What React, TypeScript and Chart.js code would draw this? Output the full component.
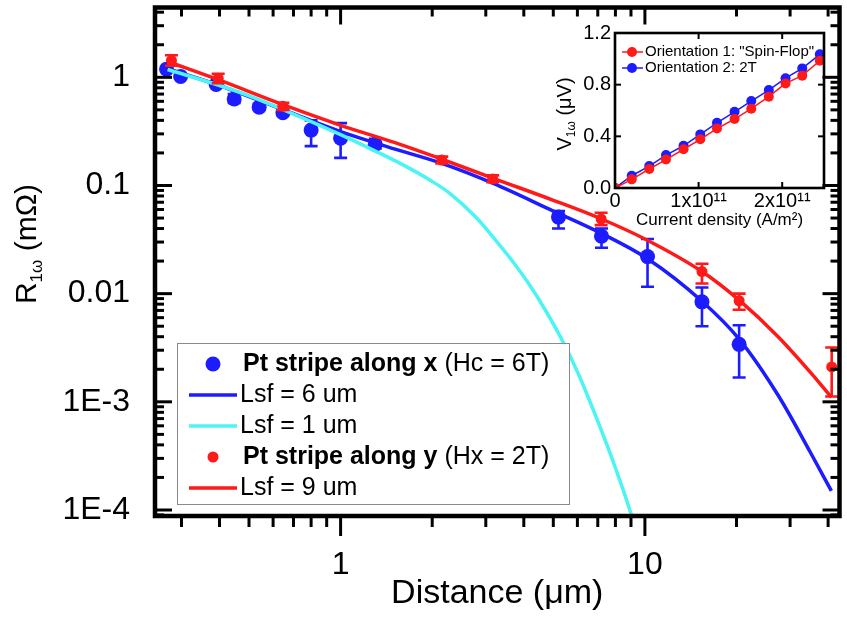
import React, { useEffect, useRef } from 'react';
import { Chart, registerables } from 'chart.js';

Chart.register(...registerables);

const FONT = '"Liberation Sans", Arial, Helvetica, sans-serif';
const BLUE = '#1c1cff';
const RED = '#ff1a1a';
const CYAN = '#4cf4f4';

// ---------- Main plot: measured points ----------
const alongXDist = [0.268, 0.298, 0.39, 0.447, 0.54, 0.646, 0.8, 1.0, 1.3, 5.2, 7.2, 10.2, 15.4, 20.4];
const alongXR = [1.19, 1.02, 0.86, 0.63, 0.53, 0.47, 0.325, 0.274, 0.24, 0.051, 0.034, 0.022, 0.0084, 0.0034];
const alongXErrLow = [null, null, null, 0.58, 0.5, null, 0.231, 0.18, 0.22, 0.04, 0.0266, 0.0116, 0.005, 0.00168];
const alongXErrHigh = [null, null, null, 0.7, 0.57, null, 0.4, 0.377, 0.27, 0.058, 0.04, 0.032, 0.0114, 0.0051];

const alongYDist = [0.278, 0.396, 0.646, 2.15, 3.16, 7.18, 15.4, 20.4, 41.1];
const alongYR = [1.43, 0.98, 0.54, 0.172, 0.115, 0.049, 0.016, 0.0086, 0.0021];
const alongYErrLow = [1.28, 0.88, 0.5, 0.16, 0.107, 0.043, 0.0124, 0.0071, 0.00112];
const alongYErrHigh = [1.6, 1.08, 0.58, 0.185, 0.124, 0.056, 0.0189, 0.01, 0.00318];

// ---------- Main plot: fit curves ----------
const fit6X = [0.27, 0.4, 0.65, 1, 1.5, 2.15, 3.16, 5, 7.2, 10.2, 15.4, 20.4, 27.4, 35, 41];
const fit6Y = [1.2, 0.84, 0.5, 0.315, 0.218, 0.16, 0.105, 0.058, 0.036, 0.021, 0.0085, 0.0038, 0.00115, 0.00034, 0.00015];

const fit1X = [0.27, 0.4, 0.5, 0.65, 0.8, 1, 1.3, 1.57, 2.0, 2.29, 2.8, 3.3, 3.7, 4.18, 4.7, 5.35, 6.0, 6.92, 8.0, 9.06, 9.4];
const fit1Y = [1.18, 0.84, 0.675, 0.5, 0.39, 0.295, 0.208, 0.16, 0.109, 0.0842, 0.05, 0.029, 0.0194, 0.012, 0.0071, 0.0037, 0.0019, 0.00072, 0.000245, 0.000087, 0.00006];

const fit9X = [0.27, 0.4, 0.65, 1, 1.5, 2.15, 3.16, 5, 7.2, 10, 15.4, 20.4, 27.4, 35, 41];
const fit9Y = [1.4, 0.94, 0.555, 0.36, 0.25, 0.175, 0.117, 0.073, 0.049, 0.032, 0.016, 0.0087, 0.004, 0.00187, 0.0011];

// ---------- Main axes ----------
const xMin = 0.2455;
const xMax = 43.6;
const yMin = 8.8e-5;
const yMax = 4.42;
const xTickValues = [1, 10];
const xTickLabels = ['1', '10'];
const yTickValues = [1e-4, 1e-3, 0.01, 0.1, 1];
const yTickLabels = ['1E-4', '1E-3', '0.01', '0.1', '1'];
const xMinorTicks = [0.3, 0.4, 0.5, 0.6, 0.7, 0.8, 0.9, 2, 3, 4, 5, 6, 7, 8, 9, 20, 30, 40];
const yMinorTicks: number[] = [];
for (let k = -5; k <= 0; k++) {
  for (let m = 2; m <= 9; m++) {
    const v = m * Math.pow(10, k);
    if (v > yMin && v < yMax) yMinorTicks.push(v);
  }
}

// ---------- Inset data ----------
const currentDensity = [0, 0.2e11, 0.41e11, 0.61e11, 0.82e11, 1.02e11, 1.22e11, 1.43e11, 1.63e11, 1.84e11, 2.04e11, 2.24e11, 2.45e11];
const orient1V = [0.0, 0.067, 0.147, 0.22, 0.3, 0.377, 0.46, 0.534, 0.614, 0.707, 0.81, 0.87, 0.985];
const orient2V = [0.0, 0.095, 0.17, 0.255, 0.327, 0.415, 0.505, 0.59, 0.673, 0.758, 0.85, 0.926, 1.035];
const insetXTickValues = [0, 1e11, 2e11];
const insetXTickLabels = ['0', '1x10¹¹', '2x10¹¹'];
const insetYTickValues = [0, 0.4, 0.8, 1.2];
const insetYTickLabels = ['0.0', '0.4', '0.8', '1.2'];

const pts = (xs: number[], ys: number[]) => xs.map((x, i) => ({ x, y: ys[i] }));

const noPad = (s: any) => {
  s.paddingTop = 0;
  s.paddingBottom = 0;
  s.paddingLeft = 0;
  s.paddingRight = 0;
};

const errorBarPlugin = {
  id: 'errorBars',
  afterDatasetDraw(chart: any, args: any) {
    const ds = chart.data.datasets[args.index];
    if (!ds.errLow) return;
    const { ctx, chartArea: a } = chart;
    const xs = chart.scales.x;
    const ys = chart.scales.y;
    ctx.save();
    ctx.beginPath();
    ctx.rect(a.left, a.top, a.right - a.left, a.bottom - a.top);
    ctx.clip();
    ctx.strokeStyle = ds.backgroundColor;
    ctx.lineWidth = 2.6;
    const cap = 6.5;
    ds.data.forEach((p: any, i: number) => {
      const lo = ds.errLow[i];
      const hi = ds.errHigh[i];
      if (lo == null || hi == null) return;
      const px = xs.getPixelForValue(p.x);
      const pl = ys.getPixelForValue(lo);
      const ph = ys.getPixelForValue(hi);
      ctx.beginPath();
      ctx.moveTo(px, pl);
      ctx.lineTo(px, ph);
      ctx.moveTo(px - cap, pl);
      ctx.lineTo(px + cap, pl);
      ctx.moveTo(px - cap, ph);
      ctx.lineTo(px + cap, ph);
      ctx.stroke();
    });
    ctx.restore();
  },
};

const mainDecorPlugin = {
  id: 'mainDecor',
  afterDraw(chart: any) {
    const { ctx, chartArea: a } = chart;
    const xs = chart.scales.x;
    const ys = chart.scales.y;
    ctx.save();
    ctx.strokeStyle = '#000';
    ctx.lineCap = 'butt';
    const line = (x1: number, y1: number, x2: number, y2: number) => {
      ctx.beginPath();
      ctx.moveTo(x1, y1);
      ctx.lineTo(x2, y2);
      ctx.stroke();
    };
    ctx.lineWidth = 3;
    xTickValues.forEach((v) => {
      const p = xs.getPixelForValue(v);
      line(p, a.top, p, a.top + 17);
      line(p, a.bottom, p, a.bottom + 20);
    });
    xMinorTicks.forEach((v) => {
      const p = xs.getPixelForValue(v);
      line(p, a.top, p, a.top + 9);
      line(p, a.bottom, p, a.bottom + 11);
    });
    yTickValues.forEach((v) => {
      const p = ys.getPixelForValue(v);
      line(a.left, p, a.left + 17, p);
      line(a.right, p, a.right - 17, p);
    });
    yMinorTicks.forEach((v) => {
      const p = ys.getPixelForValue(v);
      line(a.left, p, a.left + 9, p);
      line(a.right, p, a.right - 9, p);
    });
    ctx.lineWidth = 4.5;
    ctx.strokeRect(a.left, a.top, a.right - a.left, a.bottom - a.top);

    // Y title with subscript
    ctx.save();
    ctx.translate(36, 244);
    ctx.rotate(-Math.PI / 2);
    ctx.fillStyle = '#000';
    ctx.textBaseline = 'alphabetic';
    const big = `30px ${FONT}`;
    const small = `17px ${FONT}`;
    ctx.font = big;
    const wR = ctx.measureText('R').width;
    const wRest = ctx.measureText(' (mΩ)').width;
    ctx.font = small;
    const wSub = ctx.measureText('1ω').width;
    let xx = -(wR + wSub + wRest) / 2;
    ctx.font = big;
    ctx.fillText('R', xx, 0);
    xx += wR;
    ctx.font = small;
    ctx.fillText('1ω', xx, 6);
    xx += wSub;
    ctx.font = big;
    ctx.fillText(' (mΩ)', xx, 0);
    ctx.restore();

    // Legend
    const L = 177, T = 343, W = 392, H = 161;
    ctx.fillStyle = '#fff';
    ctx.fillRect(L, T, W, H);
    ctx.strokeStyle = '#8a8a8a';
    ctx.lineWidth = 1;
    ctx.strokeRect(L + 0.5, T + 0.5, W, H);
    const rows = [364, 395, 426, 457, 488];
    ctx.textBaseline = 'middle';
    ctx.textAlign = 'left';
    const fs = 25;
    const drawMixed = (bold: string, normal: string, x: number, y: number) => {
      ctx.fillStyle = '#000';
      ctx.font = `bold ${fs}px ${FONT}`;
      ctx.fillText(bold, x, y);
      const w = ctx.measureText(bold).width;
      ctx.font = `${fs}px ${FONT}`;
      ctx.fillText(normal, x + w, y);
    };
    const drawLine = (color: string, y: number, label: string) => {
      ctx.strokeStyle = color;
      ctx.lineWidth = 3.5;
      line(189, y, 237, y);
      ctx.fillStyle = '#000';
      ctx.font = `${fs}px ${FONT}`;
      ctx.fillText(label, 240, y);
    };
    ctx.fillStyle = BLUE;
    ctx.beginPath();
    ctx.arc(213, rows[0], 7.5, 0, Math.PI * 2);
    ctx.fill();
    drawMixed('Pt stripe along x', ' (Hc = 6T)', 243, rows[0]);
    drawLine(BLUE, rows[1], 'Lsf = 6 um');
    drawLine(CYAN, rows[2], 'Lsf = 1 um');
    ctx.fillStyle = RED;
    ctx.beginPath();
    ctx.arc(213, rows[3], 5.5, 0, Math.PI * 2);
    ctx.fill();
    drawMixed('Pt stripe along y', ' (Hx = 2T)', 243, rows[3]);
    drawLine(RED, rows[4], 'Lsf = 9 um');
    ctx.restore();
  },
};

const insetDecorPlugin = {
  id: 'insetDecor',
  afterDraw(chart: any) {
    const { ctx, chartArea: a } = chart;
    const xs = chart.scales.x;
    const ys = chart.scales.y;
    ctx.save();
    ctx.strokeStyle = '#000';
    const line = (x1: number, y1: number, x2: number, y2: number) => {
      ctx.beginPath();
      ctx.moveTo(x1, y1);
      ctx.lineTo(x2, y2);
      ctx.stroke();
    };
    ctx.lineWidth = 2;
    insetXTickValues.forEach((v) => {
      const p = xs.getPixelForValue(v);
      line(p, a.bottom, p, a.bottom - 6);
      line(p, a.top, p, a.top + 6);
    });
    insetYTickValues.forEach((v) => {
      const p = ys.getPixelForValue(v);
      line(a.left, p, a.left + 6, p);
      line(a.right, p, a.right - 6, p);
    });
    ctx.lineWidth = 2.6;
    ctx.strokeRect(a.left, a.top, a.right - a.left, a.bottom - a.top);

    // Y title
    ctx.save();
    ctx.translate(31, 94);
    ctx.rotate(-Math.PI / 2);
    ctx.fillStyle = '#000';
    ctx.textBaseline = 'alphabetic';
    const big = `20px ${FONT}`;
    const small = `12px ${FONT}`;
    ctx.font = big;
    const wV = ctx.measureText('V').width;
    const wRest = ctx.measureText(' (μV)').width;
    ctx.font = small;
    const wSub = ctx.measureText('1ω').width;
    let xx = -(wV + wSub + wRest) / 2;
    ctx.font = big;
    ctx.fillText('V', xx, 0);
    xx += wV;
    ctx.font = small;
    ctx.fillText('1ω', xx, 4);
    xx += wSub;
    ctx.font = big;
    ctx.fillText(' (μV)', xx, 0);
    ctx.restore();

    // Legend
    const items = [
      { color: RED, label: 'Orientation 1: "Spin-Flop"', y: 32 },
      { color: BLUE, label: 'Orientation 2: 2T', y: 48 },
    ];
    ctx.textBaseline = 'middle';
    ctx.font = `15px ${FONT}`;
    items.forEach((it) => {
      ctx.strokeStyle = it.color;
      ctx.lineWidth = 1.5;
      line(82, it.y, 103, it.y);
      ctx.fillStyle = it.color;
      ctx.beginPath();
      ctx.arc(92, it.y, 5, 0, Math.PI * 2);
      ctx.fill();
      ctx.fillStyle = '#000';
      ctx.fillText(it.label, 105, it.y);
    });
    ctx.restore();
  },
};

function mainConfig(): any {
  return {
    type: 'scatter',
    data: {
      datasets: [
        { label: 'Lsf = 9 um', data: pts(fit9X, fit9Y), showLine: true, borderColor: RED, borderWidth: 3.5, pointRadius: 0, cubicInterpolationMode: 'monotone' },
        { label: 'Pt stripe along y', data: pts(alongYDist, alongYR), showLine: false, backgroundColor: RED, borderWidth: 0, pointRadius: 5.5, errLow: alongYErrLow, errHigh: alongYErrHigh },
        { label: 'Lsf = 1 um', data: pts(fit1X, fit1Y), showLine: true, borderColor: CYAN, borderWidth: 3.5, pointRadius: 0, cubicInterpolationMode: 'monotone' },
        { label: 'Lsf = 6 um', data: pts(fit6X, fit6Y), showLine: true, borderColor: BLUE, borderWidth: 3.5, pointRadius: 0, cubicInterpolationMode: 'monotone' },
        { label: 'Pt stripe along x', data: pts(alongXDist, alongXR), showLine: false, backgroundColor: BLUE, borderWidth: 0, pointRadius: 7.5, errLow: alongXErrLow, errHigh: alongXErrHigh },
      ],
    },
    options: {
      responsive: false,
      animation: false,
      devicePixelRatio: 1,
      layout: { padding: { left: 0, right: 5, top: 6, bottom: 0 } },
      scales: {
        x: {
          type: 'logarithmic',
          position: 'bottom',
          min: xMin,
          max: xMax,
          afterFit: (s: any) => { s.height = 102; noPad(s); },
          afterBuildTicks: (s: any) => { s.ticks = xTickValues.map((v) => ({ value: v })); },
          ticks: { autoSkip: false, maxRotation: 0, padding: 30, color: '#000', font: { family: FONT, size: 32 }, callback: (_v: any, i: number) => xTickLabels[i] },
          grid: { display: false, drawTicks: false },
          border: { display: false },
          title: { display: true, text: 'Distance (μm)', color: '#000', font: { family: FONT, size: 34 }, padding: { top: 0, bottom: 4 } },
        },
        y: {
          type: 'logarithmic',
          position: 'left',
          min: yMin,
          max: yMax,
          afterFit: (s: any) => { s.width = 155; noPad(s); },
          afterBuildTicks: (s: any) => { s.ticks = yTickValues.map((v) => ({ value: v })); },
          ticks: { autoSkip: false, padding: 25, color: '#000', font: { family: FONT, size: 32 }, callback: (_v: any, i: number) => yTickLabels[i] },
          grid: { display: false, drawTicks: false },
          border: { display: false },
        },
      },
      plugins: { legend: { display: false }, tooltip: { enabled: false } },
    },
    plugins: [errorBarPlugin, mainDecorPlugin],
  };
}

function insetConfig(): any {
  return {
    type: 'scatter',
    data: {
      datasets: [
        { label: 'Orientation 1: "Spin-Flop"', data: pts(currentDensity, orient1V), showLine: true, borderColor: RED, backgroundColor: RED, borderWidth: 1.5, pointRadius: 5, pointBorderWidth: 0 },
        { label: 'Orientation 2: 2T', data: pts(currentDensity, orient2V), showLine: true, borderColor: BLUE, backgroundColor: BLUE, borderWidth: 1.5, pointRadius: 5, pointBorderWidth: 0 },
      ],
    },
    options: {
      responsive: false,
      animation: false,
      devicePixelRatio: 1,
      layout: { padding: { left: 0, right: 16, top: 13, bottom: 0 } },
      scales: {
        x: {
          type: 'linear',
          min: 0,
          max: 2.5e11,
          afterFit: (s: any) => { s.height = 52; noPad(s); },
          afterBuildTicks: (s: any) => { s.ticks = insetXTickValues.map((v) => ({ value: v })); },
          ticks: { autoSkip: false, maxRotation: 0, padding: 1, color: '#000', font: { family: FONT, size: 20 }, callback: (_v: any, i: number) => insetXTickLabels[i] },
          grid: { display: false, drawTicks: false },
          border: { display: false },
          title: { display: true, text: 'Current density (A/m²)', color: '#000', font: { family: FONT, size: 17 }, padding: { top: 0, bottom: 9 } },
        },
        y: {
          type: 'linear',
          min: 0,
          max: 1.2,
          afterFit: (s: any) => { s.width = 75; noPad(s); },
          afterBuildTicks: (s: any) => { s.ticks = insetYTickValues.map((v) => ({ value: v })); },
          ticks: { autoSkip: false, padding: 4, color: '#000', font: { family: FONT, size: 20 }, callback: (_v: any, i: number) => insetYTickLabels[i] },
          grid: { display: false, drawTicks: false },
          border: { display: false },
        },
      },
      plugins: { legend: { display: false }, tooltip: { enabled: false } },
    },
    plugins: [insetDecorPlugin],
  };
}

export default function App() {
  const mainRef = useRef<HTMLCanvasElement>(null);
  const insetRef = useRef<HTMLCanvasElement>(null);
  useEffect(() => {
    const main = new Chart(mainRef.current as HTMLCanvasElement, mainConfig());
    const inset = new Chart(insetRef.current as HTMLCanvasElement, insetConfig());
    return () => {
      main.destroy();
      inset.destroy();
    };
  }, []);
  return (
    <div style={{ position: 'absolute', left: 0, top: 0, width: 847, height: 618, background: '#fff', overflow: 'hidden' }}>
      <canvas ref={mainRef} width={847} height={618} style={{ position: 'absolute', left: 0, top: 0, width: 847, height: 618 }} />
      <canvas ref={insetRef} width={300} height={220} style={{ position: 'absolute', left: 540, top: 20, width: 300, height: 220 }} />
    </div>
  );
}
